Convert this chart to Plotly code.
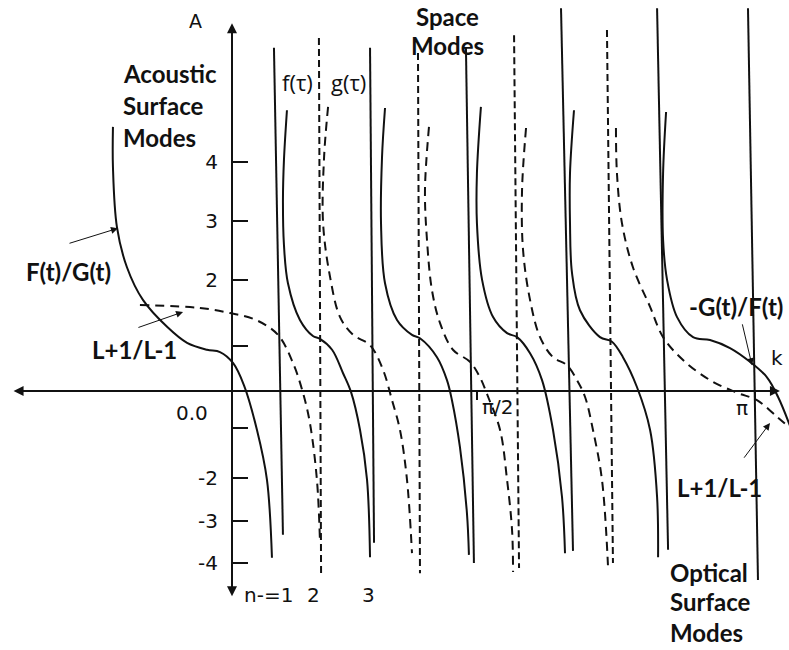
import plotly.graph_objects as go

# ---- f(tau) / F(t)/G(t) branches (solid), wavevector k vs amplitude A ----
f0_k = [-0.715, -0.715, -0.691, -0.631, -0.535, -0.390, -0.270, -0.150, -0.072, 0.006, 0.072, 0.150, 0.210, 0.240]
f0_A = [4.61, 3.91, 2.86, 2.16, 1.59, 1.12, 0.84, 0.72, 0.68, 0.49, 0.10, -0.68, -1.55, -2.91]
f1_k = [0.330, 0.312, 0.306, 0.312, 0.336, 0.408, 0.486, 0.528, 0.601, 0.667, 0.715, 0.769, 0.811, 0.829]
f1_A = [4.90, 4.03, 3.33, 2.55, 1.88, 1.24, 0.96, 0.91, 0.72, 0.31, -0.02, -0.68, -1.55, -2.90]
f2_k = [0.919, 0.901, 0.895, 0.919, 0.991, 1.081, 1.129, 1.231, 1.291, 1.321, 1.369, 1.411, 1.423]
f2_A = [4.94, 4.08, 2.93, 1.88, 1.24, 0.98, 0.92, 0.59, 0.19, -0.16, -0.98, -2.13, -2.86]
f3_k = [1.495, 1.471, 1.471, 1.502, 1.568, 1.652, 1.712, 1.790, 1.862, 1.928, 1.982, 2.000]
f3_A = [4.96, 3.80, 2.93, 1.94, 1.29, 1.01, 0.94, 0.66, 0.19, -0.68, -1.85, -2.83]
f4_k = [2.054, 2.030, 2.030, 2.042, 2.090, 2.210, 2.282, 2.348, 2.432, 2.511, 2.553, 2.559]
f4_A = [4.90, 3.80, 2.93, 2.06, 1.41, 0.94, 0.86, 0.59, 0.07, -0.68, -1.85, -2.90]
# -G(t)/F(t) optical branch
f5_k = [2.607, 2.589, 2.589, 2.613, 2.673, 2.769, 2.871, 2.991, 3.111, 3.213, 3.279, 3.345, 3.381]
f5_A = [4.87, 3.80, 2.64, 1.94, 1.29, 0.94, 0.89, 0.75, 0.51, 0.24, -0.10, -0.56, -0.86]

# ---- g(tau) / (L+1)/(L-1) branches (dashed) ----
g0_k = [-0.553, -0.192, -0.012, 0.144, 0.276, 0.366, 0.426, 0.468, 0.510, 0.528]
g0_A = [1.50, 1.45, 1.36, 1.24, 0.98, 0.49, -0.03, -0.56, -1.55, -2.60]
g1_k = [0.577, 0.553, 0.547, 0.589, 0.649, 0.727, 0.829, 0.907, 0.961, 1.009, 1.051, 1.081]
g1_A = [4.96, 4.08, 2.93, 1.99, 1.29, 0.98, 0.80, 0.37, -0.16, -0.68, -1.55, -2.83]
g2_k = [1.183, 1.159, 1.171, 1.201, 1.249, 1.327, 1.429, 1.489, 1.538, 1.610, 1.652, 1.682, 1.688]
g2_A = [4.61, 3.51, 2.64, 1.76, 1.19, 0.72, 0.51, 0.24, -0.10, -0.68, -1.55, -2.43, -3.16]
g3_k = [1.766, 1.742, 1.748, 1.790, 1.850, 1.928, 2.012, 2.072, 2.120, 2.168, 2.222, 2.258]
g3_A = [4.59, 3.51, 2.46, 1.59, 0.94, 0.59, 0.45, 0.19, -0.10, -0.68, -1.55, -3.04]
g4_k = [2.306, 2.312, 2.342, 2.408, 2.511, 2.589, 2.709, 2.871, 3.033, 3.153, 3.273, 3.345]
g4_A = [4.59, 3.80, 2.93, 2.16, 1.47, 0.94, 0.54, 0.19, -0.03, -0.16, -0.45, -0.63]

# ---- poles of f (solid verticals) and of g (dashed verticals) ----
f_pole_k_top = [0.252, 0.829, 1.405, 1.976, 2.553, 3.099]
f_pole_k_bot = [0.306, 0.853, 1.453, 2.048, 2.619, 3.159]
f_pole_A_top = [5.99, 5.99, 5.99, 6.68, 6.68, 6.68]
f_pole_A_bot = [-2.51, -2.65, -3.00, -2.79, -2.77, -3.30]
g_pole_k_top = [0.522, 1.117, 1.694, 2.252]
g_pole_k_bot = [0.535, 1.129, 1.724, 2.288]
g_pole_A_top = [6.16, 5.90, 6.21, 6.30]
g_pole_A_bot = [-3.18, -3.18, -3.09, -3.00]

# ---- axis ticks ----
a_tick_pos = [4.00, 2.97, 1.94, 0.79, -0.65, -1.52, -2.27, -3.00]
a_tick_text = ["4", "3", "2", "", "", "-2", "-3", "-4"]
k_tick_pos = [1.471, 3.141]

INK = "#111111"
fig = go.Figure()

solid = [(f0_k, f0_A), (f1_k, f1_A), (f2_k, f2_A), (f3_k, f3_A), (f4_k, f4_A), (f5_k, f5_A)]
dashed = [(g0_k, g0_A), (g1_k, g1_A), (g2_k, g2_A), (g3_k, g3_A), (g4_k, g4_A)]

for ks, As in solid:
    fig.add_trace(go.Scatter(x=ks, y=As, mode="lines", hoverinfo="skip",
                             line=dict(color=INK, width=2, shape="spline", smoothing=1.0)))
for ks, As in dashed:
    fig.add_trace(go.Scatter(x=ks, y=As, mode="lines", hoverinfo="skip",
                             line=dict(color=INK, width=2, shape="spline", smoothing=1.0,
                                       dash="9px,6px")))
for i in range(len(f_pole_k_top)):
    fig.add_trace(go.Scatter(x=[f_pole_k_top[i], f_pole_k_bot[i]],
                             y=[f_pole_A_top[i], f_pole_A_bot[i]], mode="lines",
                             hoverinfo="skip", line=dict(color=INK, width=2)))
for i in range(len(g_pole_k_top)):
    fig.add_trace(go.Scatter(x=[g_pole_k_top[i], g_pole_k_bot[i]],
                             y=[g_pole_A_top[i], g_pole_A_bot[i]], mode="lines",
                             hoverinfo="skip", line=dict(color=INK, width=2, dash="7px,4px")))

# axes with arrowheads
fig.add_annotation(x=3.291, y=0, ax=-1.321, ay=0, xref="x", yref="y", axref="x", ayref="y",
                   text="", showarrow=True, arrowside="end+start", arrowhead=2,
                   startarrowhead=2, arrowwidth=2, arrowsize=1, startarrowsize=1,
                   arrowcolor=INK)
fig.add_annotation(x=0, y=6.42, ax=0, ay=-3.61, xref="x", yref="y", axref="x", ayref="y",
                   text="", showarrow=True, arrowside="end+start", arrowhead=2,
                   startarrowhead=2, arrowwidth=2, arrowsize=1, startarrowsize=1,
                   arrowcolor=INK)

BOLD = "Lato"
REG = "DejaVu Sans"


def label(x, y, text, size=20, family=REG, bold=False, anchor="center"):
    fig.add_annotation(x=x, y=y, xref="x", yref="y", showarrow=False,
                       text=f"<b>{text}</b>" if bold else text, xanchor=anchor,
                       font=dict(family=family, size=size, color=INK))


def pointer(x, y, ax, ay):
    fig.add_annotation(x=x, y=y, ax=ax, ay=ay, xref="x", yref="y", axref="x", ayref="y",
                       text="", showarrow=True, arrowhead=2, arrowsize=1.4,
                       arrowwidth=1, arrowcolor=INK)


label(-0.222, 6.46, "A", size=19)
label(3.273, 0.58, "k", size=20)
label(-0.240, -0.38, "0.0", size=20)
label(1.598, -0.28, "π/2", size=20)
label(3.063, -0.30, "π", size=20)
label(0.222, -3.56, "n-=1", size=20)
label(0.492, -3.56, "2", size=20)
label(0.817, -3.56, "3", size=20)
label(0.396, 5.39, "f(τ)", size=22, family="Open Sans")
label(0.697, 5.39, "g(τ)", size=22, family="Open Sans")

for txt, yy in [("Acoustic", 5.55), ("Surface", 4.99), ("Modes", 4.43)]:
    label(-0.667, yy, txt, size=24, family=BOLD, bold=True, anchor="left")
for txt, yy in [("Space", 6.53), ("Modes", 6.03)]:
    label(1.294, yy, txt, size=24, family=BOLD, bold=True)
for txt, yy in [("Optical", -3.16), ("Surface", -3.68), ("Modes", -4.22)]:
    label(2.619, yy, txt, size=24, family=BOLD, bold=True, anchor="left")

label(-0.985, 2.08, "F(t)/G(t)", size=24, family=BOLD, bold=True)
label(-0.583, 0.72, "L+1/L-1", size=24, family=BOLD, bold=True)
label(3.027, 1.47, "-G(t)/F(t)", size=24, family=BOLD, bold=True)
label(2.925, -1.68, "L+1/L-1", size=24, family=BOLD, bold=True)

pointer(-0.685, 2.84, -0.985, 2.57)
pointer(-0.294, 1.38, -0.571, 1.10)
pointer(3.123, 0.45, 3.063, 1.19)
pointer(3.231, -0.56, 3.069, -1.19)

fig.update_layout(
    width=789, height=650, margin=dict(l=0, r=0, t=0, b=0),
    paper_bgcolor="white", plot_bgcolor="white", showlegend=False,
    xaxis=dict(range=[-1.3934, 3.3453], showgrid=False, zeroline=False, showline=False,
               anchor="free", position=0.3985, ticks="outside", ticklen=8, tickwidth=1.5,
               tickcolor=INK, tickvals=k_tick_pos, showticklabels=False, fixedrange=True),
    yaxis=dict(range=[-4.520, 6.824], showgrid=False, zeroline=False, showline=False,
               anchor="free", position=0.2940, ticks="inside", ticklen=15, tickwidth=2,
               tickcolor=INK, tickvals=a_tick_pos, ticktext=a_tick_text,
               ticklabelstandoff=14, tickfont=dict(family=REG, size=20, color=INK),
               fixedrange=True),
)

fig.write_html("out.html")
